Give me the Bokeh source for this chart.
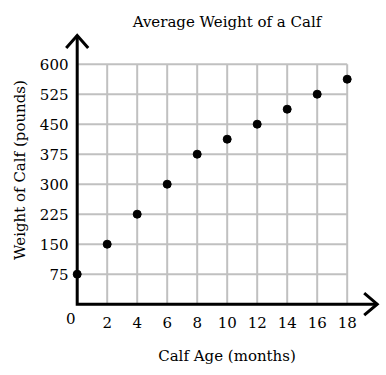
from bokeh.plotting import figure
from bokeh.models import FixedTicker, Range1d
from bokeh.core.properties import value
from bokeh.embed import file_html
from bokeh.resources import INLINE

# ---- data ----
months = [0, 2, 4, 6, 8, 10, 12, 14, 16, 18]
weights = [75, 150, 225, 300, 375, 412.5, 450, 487.5, 525, 562.5]
x_ticks = [2, 4, 6, 8, 10, 12, 14, 16, 18]
y_ticks = [75, 150, 225, 300, 375, 450, 525, 600]
x_grid = [0, 2, 4, 6, 8, 10, 12, 14, 16, 18]
y_grid = [0, 75, 150, 225, 300, 375, 450, 525, 600]
X_MAX, Y_MAX = 18, 600
X_ARROW_END, Y_ARROW_END = 20, 672

FONT = "DejaVu Serif"

p = figure(width=386, height=375, output_backend="svg", toolbar_location=None,
           x_range=Range1d(-0.3133, 20.287), y_range=Range1d(-8.25, 679.25),
           min_border_left=72, min_border_right=5, min_border_top=32,
           min_border_bottom=68, title="Average Weight of a Calf")
p.outline_line_color = None
p.background_fill_color = "white"
p.border_fill_color = "white"
p.xgrid.visible = False
p.ygrid.visible = False

p.title.align = "center"
p.title.text_font = FONT
p.title.text_font_size = "15px"
p.title.text_font_style = "normal"
p.title.text_color = "black"
p.title.standoff = 4

for ax in (p.xaxis[0], p.yaxis[0]):
    ax.axis_line_color = None
    ax.major_tick_line_color = None
    ax.minor_tick_line_color = None
    ax.major_tick_out = 0
    ax.major_tick_in = 0
    ax.major_label_text_font = FONT
    ax.major_label_text_font_size = "15px"
    ax.major_label_text_color = "black"
    ax.axis_label_text_font = FONT
    ax.axis_label_text_font_size = "15px"
    ax.axis_label_text_font_style = "normal"
    ax.axis_label_text_color = "black"

p.xaxis.ticker = FixedTicker(ticks=x_ticks)
p.yaxis.ticker = FixedTicker(ticks=y_ticks)
p.xaxis.axis_label = "Calf Age (months)"
p.yaxis.axis_label = "Weight of Calf (pounds)"
p.xaxis.major_label_standoff = 9
p.yaxis.major_label_standoff = 4
p.xaxis.axis_label_standoff = 16
p.yaxis.axis_label_standoff = 8

# grid lines
p.segment(x0=x_grid, y0=[0] * len(x_grid), x1=x_grid, y1=[Y_MAX] * len(x_grid),
          line_color="#c0c0c0", line_width=2)
p.segment(x0=[0] * len(y_grid), y0=y_grid, x1=[X_MAX] * len(y_grid), y1=y_grid,
          line_color="#c0c0c0", line_width=2)

# axes with arrows
wx, wy = 11 / 15, 12.5 / 0.4
p.multi_line(xs=[[0, 0, X_ARROW_END],
                 [-wx, 0, wx],
                 [X_ARROW_END - 13 / 15, X_ARROW_END, X_ARROW_END - 13 / 15]],
             ys=[[Y_ARROW_END, 0, 0],
                 [Y_ARROW_END - wy, Y_ARROW_END, Y_ARROW_END - wy],
                 [27.5, 0, -27.5]],
             line_color="black", line_width=3, line_join="miter", level="overlay")

# origin label
p.text(x=[0], y=[0], text=["0"], x_offset=-6.4, y_offset=14.5,
       text_align="center", text_baseline="middle",
       text_font=value(FONT), text_font_size="15px", text_color="black",
       level="overlay")

# data points
p.scatter(months, weights, size=8, color="black", level="overlay")

open("out.html", "w").write(file_html(p, INLINE))
